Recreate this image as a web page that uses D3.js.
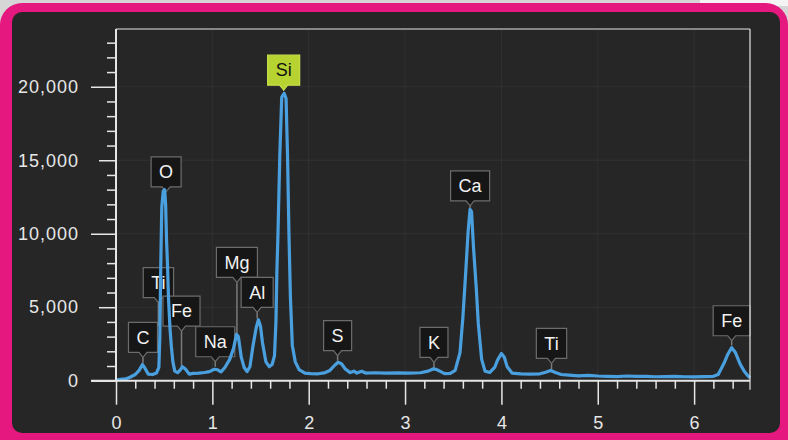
<!DOCTYPE html>
<html>
<head>
<meta charset="utf-8">
<script src="https://cdn.jsdelivr.net/npm/d3@7"></script>
<style>
  html, body { margin: 0; padding: 0; background: #dcdcdc; }
  svg { display: block; font-family: "Liberation Sans", Arial, sans-serif; }
</style>
</head>
<body>
<div id="spectrumChart"></div>
<script>
// EDS spectrum
const energyKeV = [
    0.00, 0.05, 0.10, 0.15, 0.20, 0.24, 0.275, 0.30, 0.335, 0.38,
    0.42, 0.445, 0.455, 0.465, 0.475, 0.49, 0.505, 0.515, 0.525, 0.535,
    0.545, 0.56, 0.575, 0.59, 0.61, 0.64, 0.67, 0.69, 0.72, 0.76,
    0.80, 0.86, 0.92, 0.97, 1.02, 1.05, 1.09, 1.13, 1.18, 1.22,
    1.25, 1.27, 1.30, 1.33, 1.36, 1.39, 1.42, 1.455, 1.478, 1.50,
    1.52, 1.555, 1.59, 1.62, 1.645, 1.66, 1.67, 1.68, 1.69, 1.70,
    1.72, 1.745, 1.765, 1.78, 1.795, 1.81, 1.83, 1.86, 1.90, 1.96,
    2.02, 2.10, 2.16, 2.22, 2.27, 2.305, 2.34, 2.38, 2.43, 2.47,
    2.50, 2.55, 2.59, 2.68, 2.80, 2.92, 3.04, 3.16, 3.24, 3.29,
    3.32, 3.36, 3.41, 3.47, 3.52, 3.57, 3.60, 3.625, 3.655, 3.675,
    3.69, 3.71, 3.74, 3.76, 3.795, 3.83, 3.88, 3.93, 3.96, 4.00,
    4.03, 4.06, 4.11, 4.20, 4.30, 4.40, 4.46, 4.51, 4.56, 4.62,
    4.70, 4.80, 4.90, 5.00, 5.10, 5.20, 5.30, 5.40, 5.50, 5.60,
    5.70, 5.80, 5.90, 6.00, 6.10, 6.20, 6.25, 6.31, 6.35, 6.39,
    6.43, 6.48, 6.52, 6.55, 6.58
];
const counts = [
    60, 90, 120, 250, 420, 700, 1100, 850, 450, 420,
    520, 900, 3000, 8000, 11800, 12900, 13000, 12000, 9500, 7800,
    5600, 3600, 2300, 1300, 650, 550, 750, 950, 800, 450,
    500, 520, 560, 620, 780, 760, 600, 900, 1450, 2200,
    3150, 3000, 1600, 900, 620, 950, 2300, 3600, 4150, 3700,
    2600, 1300, 950, 1100, 1700, 4000, 7500, 9700, 12500, 15300,
    19300, 19550, 19200, 15400, 10000, 5700, 2400, 1300, 750, 520,
    480, 470, 530, 700, 1050, 1250, 1150, 800, 550, 650,
    520, 640, 520, 540, 520, 530, 510, 540, 650, 800,
    780, 650, 480, 500, 700, 1900, 4300, 6900, 10200, 11650,
    11500, 9100, 6200, 3900, 1450, 650, 560, 900, 1400, 1850,
    1600, 950, 520, 460, 450, 470, 580, 700, 560, 420,
    380, 330, 360, 320, 300, 280, 320, 290, 290, 270,
    280, 300, 270, 260, 280, 300, 420, 1180, 1800, 2250,
    1900, 1100, 650, 400, 200
];

// Element markers: energy, where the leader ends, where the box sits
const labelNames = ['C', 'O', 'Ti', 'Fe', 'Na', 'Mg', 'Al', 'Si', 'S', 'K', 'Ca', 'Ti', 'Fe'];
const labelKeV = [0.28, 0.52, 0.44, 0.68, 1.03, 1.255, 1.465, 1.74, 2.30, 3.30, 3.675, 4.52, 6.39];
const labelTipCounts = [1200, 13000, 3700, 950, 950, 3250, 4250, 19700, 1350, 850, 11750, 750, 2400];
const labelBoxCounts = [1930, 13190, 5650, 3720, 1630, 7030, 4990, 20110, 2040, 1590, 12240, 1520, 3060];

const yTicks = [0, 5000, 10000, 15000, 20000];
const xTicks = [0, 1, 2, 3, 4, 5, 6];

function createSpectrumChart() {
    const W = 788, H = 440;
    const plot = { left: 116, right: 750, top: 29, bottom: 380.7 };

    const svg = d3.select('#spectrumChart').append('svg')
        .attr('width', W)
        .attr('height', H);

    // Frame: pink border and dark panel
    svg.append('rect').attr('width', W).attr('height', H).attr('fill', '#d6d6d6');
    svg.append('rect').attr('x', 700).attr('width', 88).attr('height', 6).attr('fill', '#f4f4f4');
    svg.append('rect')
        .attr('x', 0).attr('y', 3)
        .attr('width', W).attr('height', H + 20)
        .attr('rx', 22)
        .attr('fill', '#e4187f');
    svg.append('rect')
        .attr('x', 12).attr('y', 12)
        .attr('width', 768).attr('height', 421)
        .attr('rx', 10)
        .attr('fill', '#262626');

    const xScale = d3.scaleLinear().domain([0, 6.58]).range([plot.left, plot.right]);
    const yScale = d3.scaleLinear().domain([0, 23930]).range([plot.bottom, plot.top]);

    // Faint grid
    const grid = svg.append('g').attr('stroke', '#313131').attr('stroke-width', 1);
    grid.selectAll('.gx').data(xTicks.slice(1)).enter().append('line')
        .attr('x1', d => xScale(d)).attr('x2', d => xScale(d))
        .attr('y1', plot.top).attr('y2', plot.bottom);
    grid.selectAll('.gy').data(yTicks.slice(1)).enter().append('line')
        .attr('x1', plot.left).attr('x2', plot.right)
        .attr('y1', d => yScale(d)).attr('y2', d => yScale(d));

    // Element labels (drawn under the trace)
    const labels = labelNames.map((name, i) => ({
        name,
        keV: labelKeV[i],
        tip: labelTipCounts[i],
        box: labelBoxCounts[i]
    }));

    const lg = svg.append('g').attr('class', 'labels');
    labels.forEach(d => {
        const cx = xScale(d.keV);
        const bottom = yScale(d.box);
        const tipY = yScale(d.tip);
        const isSi = d.name === 'Si';
        const g = lg.append('g');

        if (tipY > bottom + 5) {
            g.append('line')
                .attr('x1', cx).attr('x2', cx)
                .attr('y1', bottom + 5).attr('y2', tipY)
                .attr('stroke', '#7a7a7a')
                .attr('stroke-width', 1.5);
        }

        const text = g.append('text')
            .attr('x', cx)
            .attr('y', bottom - 15)
            .attr('dy', '0.35em')
            .attr('text-anchor', 'middle')
            .attr('font-size', 18)
            .attr('fill', isSi ? '#111' : '#f2f2f2')
            .text(d.name);
        const w = text.node().getComputedTextLength() + 16;

        g.insert('path', 'text')
            .attr('d', `M${cx - w / 2},${bottom - 30} h${w} v30 h${-(w / 2 - 4)} l-4,5 l-4,-5 H${cx - w / 2} Z`)
            .attr('fill', isSi ? '#b7d332' : '#161616')
            .attr('stroke', isSi ? '#c9e04a' : '#6c6c6c')
            .attr('stroke-width', 1.2);
    });

    // Spectrum trace
    const data = energyKeV.map((e, i) => ({ e, c: counts[i] }));
    const line = d3.line()
        .x(d => xScale(d.e))
        .y(d => yScale(d.c));

    svg.append('path')
        .datum(data)
        .attr('fill', 'none')
        .attr('stroke', '#4aa0df')
        .attr('stroke-width', 3.2)
        .attr('stroke-linejoin', 'round')
        .attr('d', line);

    // Axes
    const axisColor = '#e6e6e6';

    const yMinor = svg.append('g')
        .attr('transform', `translate(${plot.left},0)`)
        .call(d3.axisLeft(yScale)
            .tickValues(d3.range(1000, 24000, 1000).filter(v => v % 5000 !== 0))
            .tickSize(9).tickFormat(''));

    const yMajor = svg.append('g')
        .attr('transform', `translate(${plot.left},0)`)
        .call(d3.axisLeft(yScale).tickValues(yTicks).tickSize(17).tickFormat(d3.format(',')));
    yMajor.selectAll('.tick line').filter(d => d % 10000 === 0).attr('x2', -25);
    yMajor.selectAll('.tick text')
        .attr('x', -37)
        .attr('font-size', 18)
        .attr('letter-spacing', 1)
        .attr('font-family', '"Liberation Sans", Arial, sans-serif');

    const xMinor = svg.append('g')
        .attr('transform', `translate(0,${plot.bottom})`)
        .call(d3.axisBottom(xScale)
            .tickValues(d3.range(1, 33).map(i => i * 0.2).filter(v => Math.abs(v - Math.round(v)) > 0.01))
            .tickSize(8).tickFormat(''));

    const xMajor = svg.append('g')
        .attr('transform', `translate(0,${plot.bottom})`)
        .call(d3.axisBottom(xScale).tickValues(xTicks).tickSize(24).tickFormat(d3.format('d')));
    xMajor.selectAll('.tick text')
        .attr('y', 36)
        .attr('font-size', 18)
        .attr('font-family', '"Liberation Sans", Arial, sans-serif');

    [yMinor, yMajor, xMinor, xMajor].forEach(a => {
        a.select('.domain').remove();
        a.selectAll('.tick line').attr('stroke', axisColor).attr('stroke-width', 1.5);
        a.selectAll('.tick text').attr('fill', axisColor);
    });

    // Plot frame lines
    const frame = svg.append('g').attr('stroke', axisColor);
    frame.append('line')
        .attr('x1', plot.left).attr('x2', plot.left)
        .attr('y1', plot.top).attr('y2', plot.bottom)
        .attr('stroke-width', 2);
    frame.append('line')
        .attr('x1', plot.left - 25).attr('x2', plot.right)
        .attr('y1', plot.bottom).attr('y2', plot.bottom)
        .attr('stroke-width', 2);
    frame.append('line')
        .attr('x1', plot.left).attr('x2', plot.right)
        .attr('y1', plot.top).attr('y2', plot.top)
        .attr('stroke-width', 1.2);
    frame.append('line')
        .attr('x1', plot.right).attr('x2', plot.right)
        .attr('y1', plot.top).attr('y2', plot.bottom + 9)
        .attr('stroke-width', 1.2);
}

createSpectrumChart();
</script>
</body>
</html>
